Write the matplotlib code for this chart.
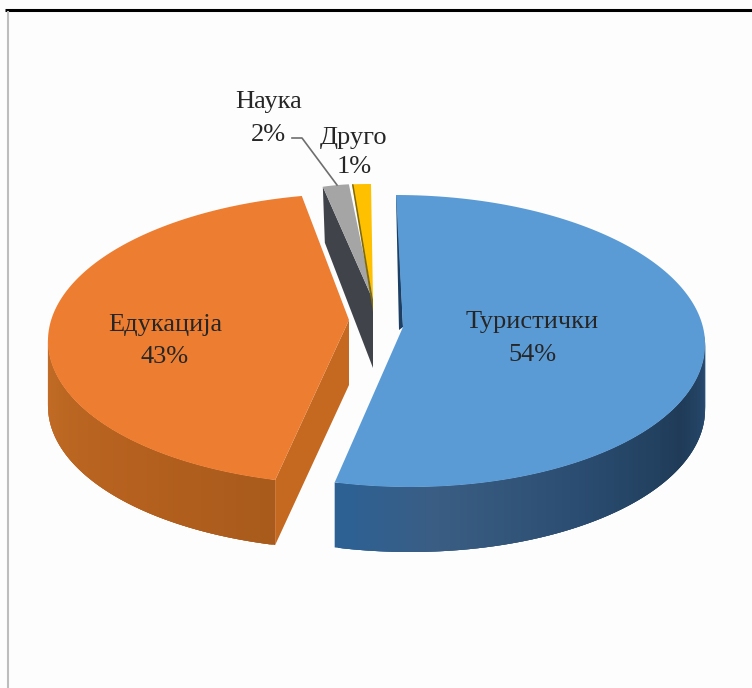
import numpy as np
import matplotlib
matplotlib.use('Agg')
import matplotlib.pyplot as plt

labels = ['Туристички', 'Едукација', 'Наука', 'Друго']
values = [54, 43, 2, 1]
top_colors = ['#5b9bd5', '#ed7d31', '#a5a5a5', '#ffc000']

# ellipse of each exploded slice, in pixels: cx, cy, a, b, skew, apex x, apex y
geom = [
    (403, 341, 302, 146, -7, 403, 327),
    (355.5, 339, 307.5, 145.6, 4, 349, 320),
    (362, 339, 209, 155, 0, 373, 300),
    (371, 339, 303, 155, 0, 373, 300),
]
depth = 65

blue_stops = [(-102, '#2d6194'), (-85, '#3a5d83'), (-55, '#2a4c70'), (-25, '#1f3b58'), (2, '#2b5078')]
orange_stops = [(-104, '#a85b1c'), (-135, '#b5601e'), (-160, '#bb6722'), (-181, '#c46c28')]

plt.rcParams['font.family'] = ['Liberation Serif', 'DejaVu Serif']
fig = plt.figure(figsize=(7.52, 6.88), dpi=100, facecolor='#fdfdfd')
ax = fig.add_axes([0, 0, 1, 1])
ax.set_xlim(0, 752)
ax.set_ylim(688, 0)
ax.axis('off')


def rim(g, t):
    cx, cy, a, b, s = g[:5]
    return cx + a*np.cos(t) + s*np.sin(t), cy - b*np.sin(t)


def hex_rgb(h):
    return np.array(matplotlib.colors.to_rgb(h))


def side(g, t0, t1, stops):
    # t0, t1 in degrees, small overlapping quads to get the gradient without seams
    ts = np.linspace(t0, t1, 160)
    st = sorted(stops)
    sx = [p[0] for p in st]
    sc = np.array([hex_rgb(p[1]) for p in st])
    for i in range(len(ts)-1):
        j = min(i+3, len(ts)-1)
        tt = np.radians([ts[i], ts[j]])
        x, y = rim(g, tt)
        mid = (ts[i]+ts[i+1])/2
        c = [np.interp(mid, sx, sc[:, k]) for k in range(3)]
        ax.fill([x[0], x[1], x[1], x[0]], [y[0], y[1], y[1]+depth, y[0]+depth],
                color=c, lw=0, zorder=1)


# angles, clockwise from 12 o'clock
angles = np.cumsum([0] + values)/sum(values)*360
t_start = 90 - angles[:-1]
t_end = 90 - angles[1:]

# sides of the two big slices
side(geom[0], t_end[0], 2, blue_stops)
side(geom[1], t_start[1], -181, orange_stops)

# orange cut face
ox, oy = rim(geom[1], np.radians(t_start[1]))
ax.fill([geom[1][5], ox, ox, geom[1][5]],
        [geom[1][6], oy, oy+depth, geom[1][6]+65], color='#c4691f', lw=0, zorder=2)

# dark inner face of the grey slice
gx, gy = rim(geom[2], np.radians(t_start[2]))
ax.fill([gx, gx+2, geom[2][5], geom[2][5]], [gy, gy+56, geom[2][6]+68, geom[2][6]],
        color='#40444a', lw=0, zorder=2)

# thin face seen behind blue
bx, by = rim(geom[0], np.radians(t_start[0]))
ax.fill([bx, bx+1, geom[0][5], geom[0][5]-4], [by, by, geom[0][6], geom[0][6]+3],
        color='#1d3f63', lw=0, zorder=2)

for i in range(len(values)):
    g = geom[i]
    ts = np.radians(np.linspace(t_start[i], t_end[i], 200))
    x, y = rim(g, ts)
    ax.fill(np.r_[g[5], x], np.r_[g[6], y], color=top_colors[i], lw=0, zorder=3)

# olive edge on the left of the yellow slice
yx, yy = rim(geom[3], np.radians(t_start[3]))
ax.fill([yx, yx+1.5, geom[3][5], geom[3][5]], [yy, yy, geom[3][6], geom[3][6]+12],
        color='#7f6a10', lw=0, zorder=4)

txt = '#262626'
pct = [str(v) + '%' for v in values]
ax.text(532, 322, labels[0], ha='center', va='center', fontsize=19, color=txt, zorder=5)
ax.text(532, 355, pct[0], ha='center', va='center', fontsize=19, color=txt, zorder=5)
ax.text(165, 325, labels[1], ha='center', va='center', fontsize=19, color=txt, zorder=5)
ax.text(165, 357, pct[1], ha='center', va='center', fontsize=19, color=txt, zorder=5)
ax.text(269, 102, labels[2], ha='center', va='center', fontsize=19, color=txt, zorder=5)
ax.text(268, 135, pct[2], ha='center', va='center', fontsize=19, color=txt, zorder=5)
ax.text(354, 138, labels[3], ha='center', va='center', fontsize=19, color=txt, zorder=5)
ax.text(354, 167, pct[3], ha='center', va='center', fontsize=19, color=txt, zorder=5)

# leader line
ax.plot([292, 302, 337], [138, 138, 185], color='#6e6e6e', lw=1.2, zorder=5)

# frame of the screenshot
ax.plot([5, 752], [10, 10], color='black', lw=2.2, solid_capstyle='butt', zorder=6)
ax.plot([7.5, 7.5], [11, 688], color='#bdbdbd', lw=1.5, solid_capstyle='butt', zorder=6)

fig.savefig('out.png', dpi=100, facecolor=fig.get_facecolor())
